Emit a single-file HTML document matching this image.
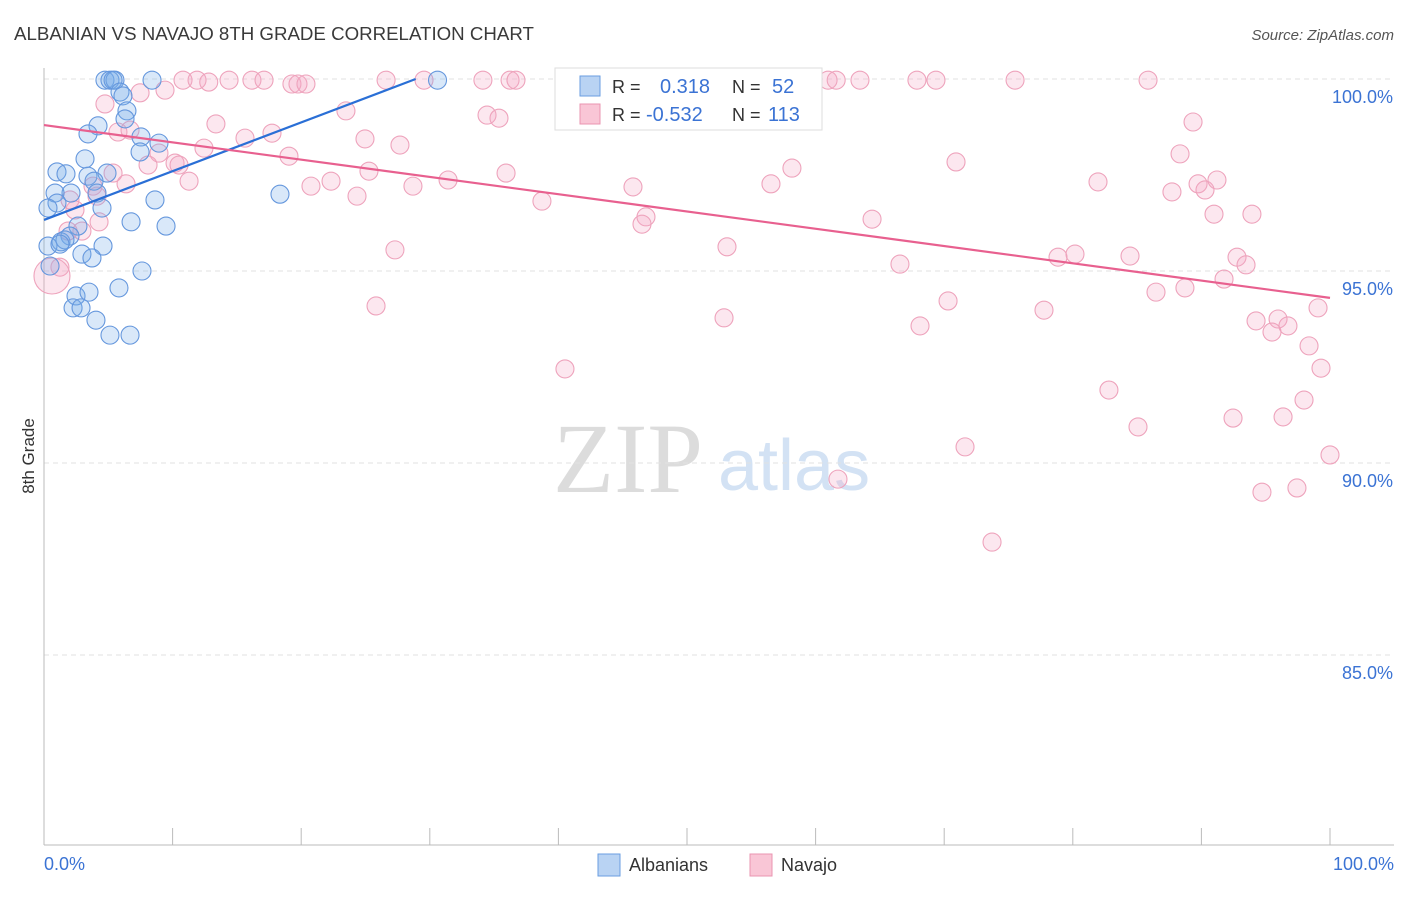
<!DOCTYPE html>
<html><head><meta charset="utf-8"><style>
body{margin:0;background:#fff;font-family:"Liberation Sans",sans-serif;}
</style></head><body>
<svg id="chart" width="1406" height="892" font-family="Liberation Sans, sans-serif">
<text x="14" y="40" font-size="18.7" fill="#3a3a3a">ALBANIAN VS NAVAJO 8TH GRADE CORRELATION CHART</text>
<text x="1394" y="40" font-size="15" fill="#555" font-style="italic" text-anchor="end">Source: ZipAtlas.com</text>
<text x="34" y="456" font-size="17" fill="#333" transform="rotate(-90 34 456)" text-anchor="middle">8th Grade</text>
<text x="553" y="492" font-size="100" fill="#dcdcdc" style="font-family:'Liberation Serif',serif">ZIP</text>
<text x="718" y="490" font-size="72" fill="#d3e2f4">atlas</text>
<g id="grid"></g><g id="axes"></g><g id="pts"></g><g id="lines"></g>
<g>
<rect x="555" y="68" width="267" height="62" fill="#fff" stroke="#ddd"/>
<rect x="580" y="76" width="20" height="20" fill="#b9d3f3" stroke="#6a9ee0"/>
<rect x="580" y="104" width="20" height="20" fill="#f9c6d6" stroke="#ea94b0"/>
<text x="612" y="93" font-size="18" fill="#333">R =</text><text x="660" y="93" font-size="20" fill="#3b73d4">0.318</text>
<text x="732" y="93" font-size="18" fill="#333">N =</text><text x="772" y="93" font-size="20" fill="#3b73d4">52</text>
<text x="612" y="121" font-size="18" fill="#333">R =</text><text x="646" y="121" font-size="20" fill="#3b73d4">-0.532</text>
<text x="732" y="121" font-size="18" fill="#333">N =</text><text x="768" y="121" font-size="20" fill="#3b73d4">113</text>
</g>
<g>
<rect x="598" y="854" width="22" height="22" fill="#b9d3f3" stroke="#6a9ee0"/>
<text x="629" y="871" font-size="18" fill="#333">Albanians</text>
<rect x="750" y="854" width="22" height="22" fill="#f9c6d6" stroke="#ea94b0"/>
<text x="781" y="871" font-size="18" fill="#333">Navajo</text>
</g>
</svg>
<script>
const yTicks=[100,95,90,85];
const xTickLabels=["0.0%","100.0%"];
const blueX=[4.74,5.13,5.52,5.37,8.40,30.6,5.91,6.14,6.45,6.30,4.20,3.42,7.54,8.94,7.47,3.19,1.01,1.71,3.42,4.90,3.89,2.10,0.86,4.12,1.01,0.31,4.51,8.63,6.77,9.49,2.64,2.02,1.32,1.63,4.59,2.95,3.73,0.47,7.62,18.35,2.49,3.50,5.83,2.26,2.88,4.04,5.13,6.69,0.31,1.24];
const blueY=[99.97,99.97,99.97,99.97,99.97,99.97,99.66,99.56,99.17,98.96,98.78,98.57,98.49,98.33,98.10,97.92,97.58,97.53,97.47,97.55,97.34,97.03,97.03,97.03,96.77,96.64,96.64,96.85,96.28,96.17,96.17,95.91,95.76,95.81,95.65,95.44,95.34,95.13,95.0,97.0,94.35,94.45,94.56,94.04,94.04,93.72,93.33,93.33,95.65,95.70];
const pinkX=[10.81,11.90,12.81,14.39,16.17,17.11,19.28,19.75,20.37,26.6,29.55,34.13,36.24,36.7,52.57,60.97,61.6,63.45,67.88,69.36,75.51,85.85,
7.47,9.41,4.74,13.37,5.75,15.63,17.73,23.48,24.96,27.68,34.45,35.38,12.44,19.05,8.94,10.19,10.50,8.09,5.37,6.38,11.28,20.76,22.32,25.27,28.69,31.42,35.93,24.34,38.72,45.80,58.16,56.53,70.92,81.96,87.71,88.34,89.35,89.74,90.28,91.21,90.98,93.93,46.81,46.50,64.39,53.11,27.29,66.56,78.85,80.17,84.45,92.77,93.47,91.76,86.47,88.72,70.30,25.82,77.76,99.07,95.96,94.25,96.73,95.49,68.12,52.88,98.37,99.30,40.51,82.81,97.98,96.35,92.46,85.07,71.62,100,61.74,94.71,97.43,73.72,6.69,3.81,4.12,2.41,4.28,1.87,2.95,1.24,0.62,2.02];
const pinkY=[99.97,99.97,99.92,99.97,99.97,99.97,99.87,99.87,99.87,99.97,99.97,99.97,99.97,99.97,99.97,99.97,99.97,99.97,99.97,99.97,99.97,99.97,
99.64,99.71,99.35,98.83,98.62,98.46,98.59,99.17,98.44,98.28,99.06,98.98,98.20,97.99,98.07,97.81,97.76,97.76,97.55,97.27,97.34,97.21,97.34,97.60,97.21,97.37,97.55,96.95,96.82,97.19,97.68,97.27,97.84,97.32,97.06,98.05,98.88,97.27,97.11,97.37,96.48,96.48,96.41,96.22,96.35,95.63,95.55,95.18,95.36,95.44,95.39,95.36,95.16,94.79,94.45,94.56,94.22,94.09,93.98,94.04,93.75,93.70,93.57,93.41,93.57,93.78,93.05,92.47,92.45,91.90,91.64,91.20,91.17,90.94,90.42,90.21,89.58,89.24,89.35,87.94,98.67,97.21,96.95,96.59,96.28,96.04,96.04,95.10,94.87,96.85];
const blueFit=[[0,96.33],[28.9,100]];
const pinkFit=[[0,98.80],[100,94.30]];
const NS="http://www.w3.org/2000/svg";
const X=v=>44+v*12.86, Y=v=>79+(100-v)*38.4;
function mk(tag,attrs,parent){const e=document.createElementNS(NS,tag);for(const k in attrs)e.setAttribute(k,attrs[k]);document.getElementById(parent).appendChild(e);return e;}
yTicks.forEach(t=>{
 const l=mk('line',{x1:44,x2:1394,y1:Y(t),y2:Y(t),stroke:'#e2e2e2','stroke-dasharray':'5,4'},'grid');
 
 
 const tx=mk('text',{x:1393,y:Y(t)+24,'font-size':18,fill:'#3b73d4','text-anchor':'end'},'grid');
 tx.textContent=t.toFixed(1)+'%';
 
 
});
const ax=mk('line',{x1:44,x2:44,y1:68,y2:845,stroke:'#bbb'},'axes');


const bx=mk('line',{x1:44,x2:1394,y1:845,y2:845,stroke:'#bbb'},'axes');


for(let i=0;i<=10;i++){const t=mk('line',{x1:X(i*10),x2:X(i*10),y1:828,y2:845,stroke:'#bbb'},'axes');
 
 }
const xl0=mk('text',{x:44,y:870,'font-size':18,fill:'#3b73d4'},'axes');xl0.textContent=xTickLabels[0];


const xl1=mk('text',{x:1394,y:870,'font-size':18,fill:'#3b73d4','text-anchor':'end'},'axes');xl1.textContent=xTickLabels[1];


pinkX.forEach((v,i)=>{const big=(i===pinkX.length-2);
 const c=mk('circle',{cx:X(v),cy:Y(pinkY[i]),r:big?18:9,fill:'rgba(246,170,196,0.28)',stroke:'#eea3bc','stroke-width':1.1},'pts');
 
 });
blueX.forEach((v,i)=>{
 const c=mk('circle',{cx:X(v),cy:Y(blueY[i]),r:9,fill:'rgba(120,172,235,0.28)',stroke:'#6597dd','stroke-width':1.1},'pts');
 
 });
const bl=mk('line',{x1:X(blueFit[0][0]),y1:Y(blueFit[0][1]),x2:X(blueFit[1][0]),y2:Y(blueFit[1][1]),stroke:'#2a6fd6','stroke-width':2.2},'lines');


const pl=mk('line',{x1:X(pinkFit[0][0]),y1:Y(pinkFit[0][1]),x2:X(pinkFit[1][0]),y2:Y(pinkFit[1][1]),stroke:'#e8608f','stroke-width':2.2},'lines');


</script>
</body></html>
